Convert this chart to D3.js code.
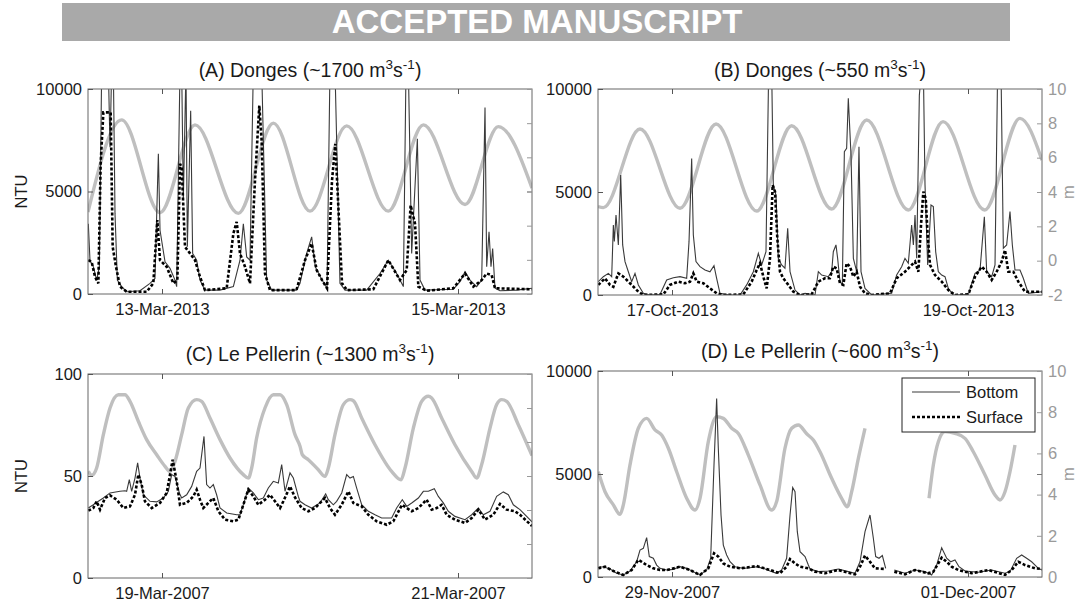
<!DOCTYPE html>
<html><head><meta charset="utf-8">
<script src="https://cdn.jsdelivr.net/npm/d3@7"></script>
<style>body{margin:0;background:#fff;}</style>
</head><body><svg id="c" width="1080" height="607"></svg>
<script>
// ---------------- DATA ----------------
const bannerText = "ACCEPTED MANUSCRIPT";
const titlePrefixes = ["(A) Donges (~1700 m", "(B) Donges (~550 m", "(C) Le Pellerin (~1300 m", "(D) Le Pellerin (~600 m"];
const startTimes = ["2013-03-12T12:00:00Z", "2013-10-16T12:00:00Z", "2007-03-18T12:00:00Z", "2007-11-28T12:00:00Z"];
const xTickDates = [["2013-03-13", "2013-03-15"], ["2013-10-17", "2013-10-19"], ["2007-03-19", "2007-03-21"], ["2007-11-29", "2007-12-01"]];
const ntuTicksA = [0, 5000, 10000];
const ntuTicksC = [0, 50, 100];
const mTicksAB = [-2, 0, 2, 4, 6, 8, 10];
const mTicksD = [0, 2, 4, 6, 8, 10];
const legendLabels = ["Bottom", "Surface"];

// [hours from panel start, value]
const tideA = [[0,2.8],[5.46,8.19],[11.68,2.76],[17.35,7.9],[24.38,2.72],[30.05,8.0],[36.0,2.85],[41.95,7.84],[48.7,2.85],[54.38,7.9],[61.14,3.24],[66.54,7.8],[72,4.2]];
const bottomA = [[0.05,3430],[0.32,1650],[0.86,1330],[1.41,680],[1.84,1330],[2.22,11000],[3.3,11000],[3.57,7160],[3.84,11000],[4.11,11000],[4.38,3920],[4.76,680],[5.46,360],[6.27,110],[8.43,160],[10.05,520],[10.86,760],[11.41,6840],[11.68,3110],[12.49,1570],[13.3,1250],[14.11,680],[14.38,360],[14.92,11000],[15.19,11000],[15.46,4570],[15.89,11000],[16.11,2300],[16.65,8940],[16.97,1980],[17.62,1650],[18.16,680],[18.97,190],[21.4,190],[23.57,360],[24.65,1650],[25.19,3430],[25.73,1810],[26.27,1650],[26.81,11000],[28.16,11000],[28.97,680],[29.78,190],[33.8,190],[34.38,520],[35.46,1980],[36.27,2790],[36.86,1330],[37.41,1000],[37.95,680],[38.76,280],[39.24,11000],[40.05,11000],[40.86,520],[41.68,190],[45.19,190],[47.35,1000],[48.7,1650],[50.05,1000],[51.14,360],[51.57,11000],[51.95,11000],[52.49,1980],[53.41,7570],[53.84,680],[54.65,190],[59.24,230],[60.32,600],[61.14,1090],[61.95,680],[63.03,360],[63.84,680],[64.38,9100],[64.65,1330],[65.03,3030],[65.35,1330],[65.62,2220],[66.0,280],[66.81,160],[69.51,190],[72,280]];
const surfaceA = [[0.05,1650],[0.59,1570],[1.14,840],[1.68,520],[2.05,6350],[2.49,8860],[3.68,8860],[4.0,2300],[4.54,1330],[5.19,360],[6.27,110],[9.51,110],[10.59,520],[11.24,3600],[11.68,1650],[12.76,1330],[13.84,520],[14.49,680],[14.92,6350],[15.19,6190],[15.73,2300],[16.54,1980],[17.35,1650],[18.16,840],[18.97,190],[22.49,280],[23.57,2950],[24.11,3520],[24.65,1980],[25.46,1330],[26.27,520],[27.08,5540],[27.78,9190],[28.16,7480],[28.7,1000],[29.51,190],[33.8,190],[35.19,1650],[36.27,2460],[37.08,1170],[37.95,680],[38.76,280],[39.57,5540],[40.11,7320],[40.65,3920],[41.19,520],[42.0,190],[46.27,230],[48.7,1650],[50.59,680],[51.68,1170],[52.32,4330],[53.03,3430],[53.57,360],[54.92,160],[59.24,280],[61.14,1000],[62.49,360],[63.84,680],[64.65,1000],[65.46,920],[66.0,280],[72,230]];

const tideB = [[0,3.15],[0.86,3.09],[6.81,7.67],[13.3,3.05],[19.14,7.96],[25.73,2.89],[31.4,7.86],[37.89,3.01],[43.57,8.19],[50.32,2.95],[55.95,8.1],[62.7,2.95],[68.43,8.29],[72,5.86]];
const bottomB = [[0.05,650],[0.86,890],[1.68,1050],[2.22,890],[2.49,3400],[2.65,2600],[2.92,3880],[3.3,2430],[3.68,5830],[4.0,2430],[4.38,1620],[4.92,1130],[5.46,650],[6.0,1050],[6.54,490],[7.35,80],[8.43,0],[10.05,30],[11.14,730],[12.22,840],[13.3,890],[14.38,810],[14.76,2590],[15.19,6630],[15.46,2910],[15.89,1620],[16.54,1375],[17.35,1210],[18.16,1130],[18.81,1420],[19.24,810],[19.78,80],[21.4,0],[23.03,0],[24.11,490],[25.19,1130],[26.0,2020],[26.54,1460],[27.24,2100],[27.68,11000],[28.16,11000],[28.43,5340],[28.86,4850],[29.24,1780],[29.78,1460],[30.32,1300],[30.76,3240],[31.14,1130],[31.95,240],[32.76,0],[33.57,80],[35.19,0],[35.73,1130],[36.27,970],[37.35,890],[37.89,1130],[38.16,2100],[38.59,2430],[38.86,1780],[39.24,650],[39.62,490],[39.95,6960],[40.32,7120],[40.59,9550],[41.03,6800],[41.41,1780],[41.95,1130],[42.32,7200],[42.65,1130],[43.3,320],[44.38,0],[47.62,80],[48.43,970],[49.24,1375],[49.78,1780],[50.32,1540],[50.86,3400],[51.14,2430],[51.41,3880],[51.68,1780],[52.11,9700],[52.49,11000],[52.76,11000],[53.03,5340],[53.46,1460],[54.0,4370],[54.38,4290],[54.76,2100],[55.19,1130],[55.73,970],[56.27,890],[56.81,320],[57.62,0],[60.05,30],[61.14,1050],[61.95,1210],[62.65,3800],[63.03,1130],[63.84,890],[64.38,1460],[64.81,11000],[65.35,11000],[65.73,2270],[66.27,2430],[66.81,4050],[67.19,2430],[67.62,1210],[68.43,1210],[68.97,810],[69.78,80],[72,160]];
const surfaceB = [[0.05,490],[1.14,810],[1.95,490],[2.49,400],[3.3,1050],[4.11,890],[4.92,650],[5.46,490],[6.54,160],[7.35,0],[10.6,30],[11.68,490],[13.03,650],[14.11,570],[14.92,650],[15.46,1050],[16.0,650],[17.08,570],[18.16,320],[19.24,80],[20.32,0],[23.57,30],[24.92,650],[25.73,1210],[26.27,1540],[26.81,890],[27.35,320],[27.89,1780],[28.32,5340],[28.7,5020],[29.08,2750],[29.51,1130],[30.05,810],[30.86,490],[31.68,160],[32.76,0],[34.65,30],[35.73,650],[36.78,810],[37.59,810],[38.16,1375],[38.7,1290],[39.24,570],[39.78,490],[40.32,1540],[40.86,1375],[41.41,890],[41.95,1130],[42.49,400],[43.3,80],[44.38,0],[47.35,80],[48.43,810],[49.78,1130],[50.59,1375],[51.41,1620],[51.95,1130],[52.38,3400],[52.76,5020],[53.14,4690],[53.46,2910],[53.84,1460],[54.65,970],[55.73,650],[56.81,240],[57.89,0],[60.05,30],[61.14,890],[62.22,1375],[63.03,1130],[63.84,730],[64.65,1130],[65.46,1620],[66.0,2180],[66.54,1130],[67.35,1130],[68.16,650],[69.24,160],[72,160]];

const tideC = [[0.05,4.27],[0.6,4.04],[1.4,4.47],[2.49,6.43],[3.57,8.0],[4.92,8.78],[6.0,8.78],[6.81,8.39],[8.16,7.22],[9.51,6.14],[11.14,5.25],[12.49,4.57],[13.3,4.27],[14.11,4.86],[15.19,6.43],[16.27,8.0],[17.62,8.49],[18.43,8.39],[19.78,7.41],[21.41,6.14],[23.03,5.06],[25.19,4.08],[26.0,3.88],[26.54,4.47],[27.35,6.24],[28.7,8.0],[30.05,8.78],[31.14,8.78],[32.22,8.2],[33.57,6.43],[34.38,5.75],[34.76,5.25],[35.73,4.96],[37.35,4.37],[38.43,3.98],[38.97,4.47],[40.05,6.43],[41.41,8.2],[42.49,8.49],[43.03,8.43],[44.38,7.41],[46.54,5.84],[49.24,4.27],[50.76,3.78],[51.41,4.47],[52.76,6.82],[54.11,8.39],[55.19,8.69],[55.73,8.59],[57.35,7.41],[59.51,5.84],[62.22,4.27],[63.03,3.88],[63.84,4.67],[65.19,6.82],[66.27,8.2],[67.08,8.49],[67.89,8.39],[69.78,7.02],[72,5.2]];
const bottomC = [[0.05,34.3],[0.86,35.9],[1.68,37.6],[2.49,39.2],[3.57,41.7],[5.19,42.5],[6.0,42.8],[6.27,42.5],[6.7,48.2],[7.08,42.5],[7.62,49.0],[8.05,56.4],[8.43,49.0],[8.97,40.8],[10.05,37.6],[11.14,37.3],[12.22,39.2],[13.03,42.5],[13.57,50.7],[14.11,49.8],[14.81,41.7],[15.19,39.2],[16.0,40.8],[16.81,44.9],[17.62,52.3],[18.16,53.9],[18.81,69.4],[19.24,45.8],[19.78,44.1],[20.32,45.8],[20.86,40.8],[21.41,34.3],[22.49,31.9],[24.11,31.0],[24.65,31.0],[25.19,35.9],[26.0,44.1],[26.81,41.7],[27.62,38.4],[28.43,39.2],[29.24,44.1],[30.05,47.4],[30.86,46.6],[31.41,55.6],[31.95,42.5],[32.76,51.5],[33.3,49.0],[34.1,40.0],[34.38,37.6],[35.19,35.9],[36.27,34.3],[37.62,36.8],[38.54,41.2],[38.97,38.4],[39.78,35.9],[40.32,37.6],[41.14,41.7],[41.95,50.7],[42.49,49.0],[43.03,49.8],[43.57,44.1],[44.38,35.9],[45.46,32.7],[46.54,31.0],[47.62,29.4],[49.24,29.4],[50.05,34.3],[50.97,38.4],[51.68,35.1],[52.49,36.8],[53.57,39.2],[54.38,42.5],[55.19,42.5],[56.16,43.8],[56.81,40.0],[57.62,36.8],[58.43,32.7],[59.51,30.2],[61.14,28.6],[62.22,31.0],[63.3,34.3],[64.11,31.0],[65.19,32.7],[66.27,40.0],[67.35,42.2],[68.16,40.8],[68.97,35.9],[70.05,33.5],[72,27.5]];
const surfaceC = [[0.05,33.0],[0.86,34.3],[1.41,37.6],[1.95,33.5],[2.76,39.2],[3.57,40.5],[4.65,38.4],[5.73,34.3],[6.81,35.1],[7.62,40.8],[8.16,50.7],[8.7,45.8],[9.24,37.6],[10.32,34.3],[11.68,36.8],[12.76,41.7],[13.3,50.7],[13.73,58.0],[14.38,47.4],[14.92,35.9],[16.0,36.8],[17.08,40.0],[17.62,43.3],[18.16,38.4],[18.7,34.3],[19.51,36.8],[20.32,39.2],[21.14,32.7],[22.22,28.6],[23.57,27.8],[24.38,28.6],[25.19,35.9],[26.0,43.3],[26.81,40.0],[27.62,35.9],[28.7,38.4],[29.51,40.8],[30.32,37.6],[31.14,34.3],[31.68,37.6],[32.76,44.9],[33.57,39.5],[34.65,34.3],[35.73,32.7],[36.81,34.3],[38.43,39.2],[39.24,34.3],[40.05,31.0],[41.14,35.9],[42.22,42.5],[43.03,36.8],[44.38,35.1],[45.46,31.0],[46.81,27.8],[48.43,26.1],[49.51,27.8],[50.92,35.9],[51.68,34.3],[52.49,32.7],[53.57,34.3],[54.92,38.4],[55.73,33.5],[56.54,34.3],[57.35,35.9],[58.16,31.0],[59.51,28.6],[61.14,27.0],[62.22,29.4],[63.3,33.5],[64.38,28.6],[65.73,31.0],[66.81,36.3],[67.89,33.5],[69.24,32.7],[70.05,31.0],[72,25.5]];

const tideD = [[0.05,5.11],[1.14,4.14],[2.49,3.5],[3.57,3.04],[4.11,3.5],[5.19,5.44],[6.54,7.22],[7.89,7.7],[9.24,7.14],[10.32,6.89],[11.41,6.25],[12.76,5.11],[14.38,3.82],[15.73,3.25],[16.54,3.82],[17.89,6.57],[19.24,7.78],[20.32,7.7],[21.68,7.22],[22.76,6.97],[24.38,5.92],[26.27,4.47],[28.16,3.25],[28.97,3.66],[30.32,6.25],[31.41,7.22],[32.49,7.38],[33.84,6.95],[34.92,6.65],[36.0,6.08],[37.89,4.79],[39.51,3.82],[40.43,3.41],[41.14,4.14],[42.22,5.76],[43.3,7.22],[48,null],[53.68,3.82],[54.38,5.44],[55.19,6.57],[56.27,7.06],[57.89,6.97],[59.51,6.73],[60.86,6.08],[62.76,4.95],[64.38,3.98],[65.19,3.74],[66.0,4.14],[66.81,5.11],[67.62,6.41]];
const bottomD = [[0.05,470],[0.86,500],[1.95,390],[3.03,180],[4.11,100],[5.19,290],[6.27,740],[6.81,1310],[7.35,1390],[7.89,1910],[8.32,990],[8.97,910],[9.51,580],[10.05,420],[11.14,340],[12.22,370],[13.3,500],[14.38,420],[15.46,260],[16.54,100],[17.62,340],[18.27,910],[18.81,5440],[19.24,8670],[19.51,6250],[19.95,3010],[20.32,1550],[20.86,1070],[21.41,740],[22.22,500],[23.57,420],[24.65,450],[25.73,500],[26.81,420],[27.89,290],[28.97,180],[29.78,340],[30.59,910],[31.14,3010],[31.57,4340],[31.95,4140],[32.32,2200],[32.76,1230],[33.57,990],[34.11,580],[34.38,390],[35.73,260],[37.35,290],[38.97,390],[40.59,260],[41.68,180],[42.49,740],[43.3,2200],[44.11,3010],[44.65,1880],[45.03,990],[45.57,910],[46.11,1040],[46.65,420],[47.3,null],[48.05,340],[49.78,180],[51.41,340],[53.03,260],[54.11,100],[54.92,580],[55.73,1420],[56.54,910],[57.19,740],[57.89,830],[58.54,500],[59.51,290],[61.68,230],[63.84,340],[66.0,180],[66.81,260],[67.89,910],[68.7,1070],[69.51,910],[70.32,740],[71.41,420],[72,340]];
const surfaceD = [[0.05,420],[1.14,500],[2.49,290],[4.11,100],[5.46,340],[6.54,830],[7.08,740],[7.89,580],[8.97,420],[10.05,340],[11.14,340],[13.3,500],[14.92,340],[16.54,100],[17.89,420],[18.81,1150],[19.51,990],[20.32,660],[21.41,500],[23.03,420],[25.73,530],[27.89,340],[29.51,180],[30.59,500],[31.14,870],[31.95,660],[32.76,500],[34.11,420],[35.19,260],[36.86,180],[38.97,340],[41.68,130],[42.49,500],[43.3,1040],[44.11,740],[44.92,420],[46.65,390],[47.3,null],[48.05,260],[49.78,130],[51.41,340],[53.57,180],[54.38,260],[55.73,940],[56.54,740],[57.35,500],[58.43,340],[60.59,180],[63.3,340],[66.0,100],[67.08,340],[68.16,740],[69.24,580],[70.86,420],[72,390]];

// ---------------- DRAWING ----------------
const FONT = '"Liberation Sans", Arial, Helvetica, sans-serif';
const svg = d3.select("#c").attr("font-family", FONT);
const HOUR = 3600e3;

svg.append("rect").attr("x", 62).attr("y", 3).attr("width", 948).attr("height", 38).attr("fill", "#a9a9a9");
svg.append("text").attr("x", 537).attr("y", 33).attr("text-anchor", "middle")
  .attr("font-size", 33).attr("font-weight", "bold").attr("fill", "#fff").text(bannerText);

const panels = [
  {box:[88,89,532,294], yMax:10000, yTicks:ntuTicksA, rDom:[-2,10], rTicks:mTicksAB, rLabels:false, ntu:true, titleY:77, tide:tideA, bot:bottomA, surf:surfaceA},
  {box:[598,89,1042,295], yMax:10000, yTicks:ntuTicksA, rDom:[-2,10], rTicks:mTicksAB, rLabels:true, ntu:false, titleY:77, tide:tideB, bot:bottomB, surf:surfaceB},
  {box:[88,374,532,578], yMax:100, yTicks:ntuTicksC, rDom:[-2,10], rTicks:mTicksAB, rLabels:false, ntu:true, titleY:361, tide:tideC, bot:bottomC, surf:surfaceC},
  {box:[598,371,1042,577], yMax:10000, yTicks:ntuTicksA, rDom:[0,10], rTicks:mTicksD, rLabels:true, ntu:false, titleY:358, tide:tideD, bot:bottomD, surf:surfaceD, legend:true}
];

const defs = svg.append("defs");
const fmt = d3.utcFormat("%d-%b-%Y");

panels.forEach((p, i) => {
  const [x0, y0, x1, y1] = p.box;
  const t0 = new Date(startTimes[i]).getTime();
  const x = d3.scaleUtc().domain([new Date(t0), new Date(t0 + 72 * HOUR)]).range([x0, x1]);
  const yL = d3.scaleLinear().domain([0, p.yMax]).range([y1, y0]);
  const yR = d3.scaleLinear().domain(p.rDom).range([y1, y0]);
  const tx = d => x(new Date(t0 + d[0] * HOUR));

  defs.append("clipPath").attr("id", "clip" + i).append("rect")
    .attr("x", x0).attr("y", y0).attr("width", x1 - x0).attr("height", y1 - y0);

  const g = svg.append("g");
  const plot = g.append("g").attr("clip-path", `url(#clip${i})`);

  plot.append("path").datum(p.tide)
    .attr("d", d3.line().defined(d => d[1] !== null).x(tx).y(d => yR(d[1])).curve(d3.curveMonotoneX))
    .attr("fill", "none").attr("stroke", "#bfbfbf").attr("stroke-width", 3.4);
  plot.append("path").datum(p.bot)
    .attr("d", d3.line().defined(d => d[1] !== null).x(tx).y(d => yL(d[1])))
    .attr("fill", "none").attr("stroke", "#3a3a3a").attr("stroke-width", 1.1);
  plot.append("path").datum(p.surf)
    .attr("d", d3.line().defined(d => d[1] !== null).x(tx).y(d => yL(d[1])))
    .attr("fill", "none").attr("stroke", "#000").attr("stroke-width", 2.6).attr("stroke-dasharray", "3,2");

  g.append("rect").attr("x", x0).attr("y", y0).attr("width", x1 - x0).attr("height", y1 - y0)
    .attr("fill", "none").attr("stroke", "#666").attr("stroke-width", 1);

  const style = (sel, col, tcol) => {
    sel.select(".domain").remove();
    sel.attr("font-size", 16.5).attr("font-family", FONT);
    sel.selectAll("line").attr("stroke", col);
    sel.selectAll("text").attr("fill", tcol);
  };

  const gl = g.append("g").attr("transform", `translate(${x0},0)`)
    .call(d3.axisLeft(yL).tickValues(p.yTicks).tickSize(-5).tickPadding(6).tickFormat(d => String(d)));
  style(gl, "#555", "#1a1a1a");
  const glr = g.append("g").attr("transform", `translate(${x1},0)`)
    .call(d3.axisRight(yL).tickValues(p.yTicks).tickSize(-5).tickFormat(""));
  style(glr, "#777", "#777");
  const gr = g.append("g").attr("transform", `translate(${x1},0)`)
    .call(d3.axisRight(yR).tickValues(p.rTicks).tickSize(-5).tickPadding(6).tickFormat(d => p.rLabels ? String(d) : ""));
  style(gr, "#999", "#9a9a9a");
  const tickDates = xTickDates[i].map(s => new Date(s + "T00:00:00Z"));
  const gb = g.append("g").attr("transform", `translate(0,${y1})`)
    .call(d3.axisBottom(x).tickValues(tickDates).tickSize(-5).tickPadding(9).tickFormat(fmt));
  style(gb, "#555", "#1a1a1a");
  const gt = g.append("g").attr("transform", `translate(0,${y0})`)
    .call(d3.axisTop(x).tickValues(tickDates).tickSize(-5).tickFormat(""));
  style(gt, "#555", "#555");

  const cx = (x0 + x1) / 2;
  const t = g.append("text").attr("x", cx).attr("y", p.titleY).attr("text-anchor", "middle")
    .attr("font-size", 19.5).attr("fill", "#1a1a1a");
  t.append("tspan").text(titlePrefixes[i]);
  t.append("tspan").attr("dy", -8).attr("font-size", 13.5).text("3");
  t.append("tspan").attr("dy", 8).text("s");
  t.append("tspan").attr("dy", -8).attr("font-size", 13.5).text("-1");
  t.append("tspan").attr("dy", 8).text(")");

  const yc = (y0 + y1) / 2;
  if (p.ntu) {
    g.append("text").attr("transform", `translate(27,${yc}) rotate(-90)`).attr("text-anchor", "middle")
      .attr("font-size", 16.5).attr("fill", "#1a1a1a").text("NTU");
  }
  if (p.rLabels) {
    g.append("text").attr("transform", `translate(${x1 + 32},${yc}) rotate(-90)`).attr("text-anchor", "middle")
      .attr("font-size", 16.5).attr("fill", "#9a9a9a").text("m");
  }

  if (p.legend) {
    const lg = g.append("g");
    lg.append("rect").attr("x", 902).attr("y", 378).attr("width", 133).attr("height", 54)
      .attr("fill", "#fff").attr("stroke", "#222").attr("stroke-width", 1);
    lg.append("line").attr("x1", 912).attr("x2", 960).attr("y1", 392).attr("y2", 392)
      .attr("stroke", "#3a3a3a").attr("stroke-width", 1.1);
    lg.append("line").attr("x1", 912).attr("x2", 960).attr("y1", 417).attr("y2", 417)
      .attr("stroke", "#000").attr("stroke-width", 2.6).attr("stroke-dasharray", "3,2");
    lg.append("text").attr("x", 966).attr("y", 398).attr("font-size", 16.5).attr("fill", "#1a1a1a").text(legendLabels[0]);
    lg.append("text").attr("x", 966).attr("y", 423).attr("font-size", 16.5).attr("fill", "#1a1a1a").text(legendLabels[1]);
  }
});
</script>
</body></html>
